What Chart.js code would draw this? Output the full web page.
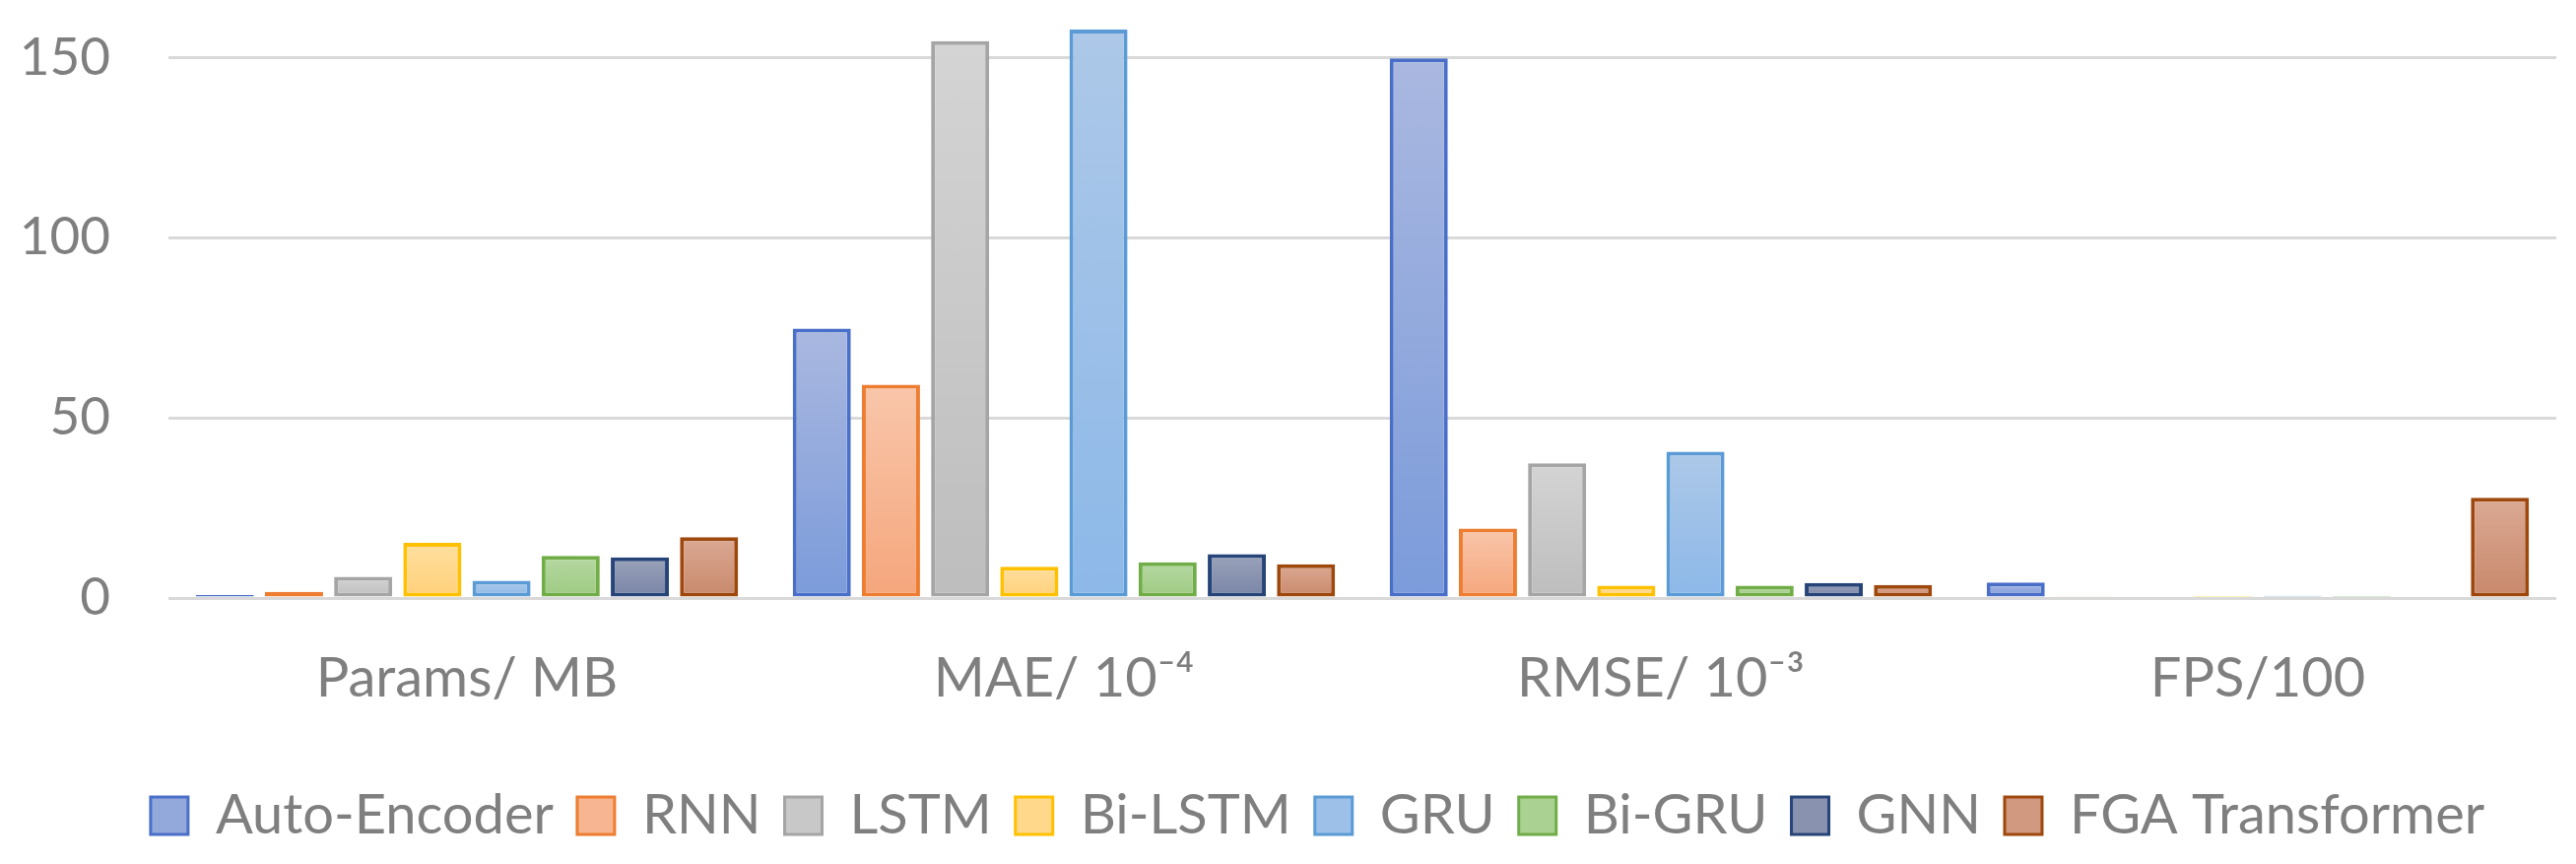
<!DOCTYPE html>
<html>
<head>
<meta charset="utf-8">
<script src="https://cdn.jsdelivr.net/npm/chart.js@4.4.1/dist/chart.umd.min.js"></script>
<style>
  html, body { margin: 0; padding: 0; background: #fff; }
  #wrap { width: 2615px; height: 877px; position: relative; }
</style>
</head>
<body>
<div id="wrap"><canvas id="chart"></canvas></div>
<script>
const categories = ["Params/ MB", "MAE/ 10\u207B\u2074", "RMSE/ 10\u207B\u00B3", "FPS/100"];
const models = ["Auto-Encoder", "RNN", "LSTM", "Bi-LSTM", "GRU", "Bi-GRU", "GNN", "FGA Transformer"];

// one array per model, values per category (Params, MAE, RMSE, FPS)
const autoEncoder = [0.8, 74.8, 149.8, 4.3];
const rnn = [1.7, 59.2, 19.3, 0.5];
const lstm = [5.9, 154.6, 37.4, 0.4];
const biLstm = [15.3, 8.7, 3.4, 0.3];
const gru = [4.8, 157.8, 40.6, 0.6];
const biGru = [11.7, 9.9, 3.4, 0.3];
const gnn = [11.3, 12.2, 4.2, 0.4];
const fga = [16.9, 9.4, 3.6, 27.8];
const series = [autoEncoder, rnn, lstm, biLstm, gru, biGru, gnn, fga];

const yTicks = [0, 50, 100, 150];

// styles
const borders = ["#4a6fc8", "#ed7d31", "#a5a5a5", "#ffc000", "#5b9bd5", "#70ad47", "#264478", "#9e480e"];
const fillTop = ["#aab8e0", "#f9c6aa", "#d4d4d4", "#ffdf9e", "#adc8e8", "#b6d8a2", "#9ba3ba", "#dba993"];
const fillBottom = ["#7b9bda", "#f5a67c", "#bdbdbd", "#ffd07a", "#8cb8e8", "#9dca82", "#7884a6", "#c8886b"];
const legendFill = ["#93a9dc", "#f7b691", "#c8c8c8", "#ffd88c", "#9cc0e8", "#aad192", "#8993b0", "#d1997f"];

const textColor = "#7f7f7f";
const fontFamily = "Lato, 'Open Sans', sans-serif";

function barFill(i) {
    return (ctx) => {
        const chart = ctx.chart;
        if (!chart.chartArea || ctx.raw === undefined) return fillBottom[i];
        const y = chart.scales.y;
        const top = y.getPixelForValue(ctx.raw);
        const base = y.getPixelForValue(0);
        if (!(base - top > 1)) return fillBottom[i];
        const g = chart.ctx.createLinearGradient(0, top, 0, base);
        g.addColorStop(0, fillTop[i]);
        g.addColorStop(1, fillBottom[i]);
        return g;
    };
}

// legend in the original sits a little right of centre
const legendShift = {
    id: "legendShift",
    afterLayout(chart) {
        chart.legend.left += 35;
        chart.legend.right += 35;
    },
};

const datasets = models.map((name, i) => ({
    label: name,
    data: series[i],
    backgroundColor: barFill(i),
    borderColor: borders[i],
    borderWidth: 4,
    borderSkipped: false,
    categoryPercentage: 0.927,
    barPercentage: 0.84,
    clip: false,
}));

new Chart(document.getElementById("chart"), {
    type: "bar",
    data: { labels: categories, datasets: datasets },
    plugins: [legendShift],
    options: {
        responsive: true,
        maintainAspectRatio: false,
        animation: false,
        layout: { padding: { top: 0, right: 20, bottom: 11, left: 10 } },
        plugins: {
            tooltip: { enabled: false },
            legend: {
                position: "bottom",
                labels: {
                    color: textColor,
                    font: { family: fontFamily, size: 56 },
                    boxWidth: 38,
                    boxHeight: 38,
                    padding: 24,
                    generateLabels: (chart) =>
                        Chart.defaults.plugins.legend.labels.generateLabels(chart).map((item, i) => ({
                            ...item,
                            fillStyle: legendFill[i],
                            strokeStyle: borders[i],
                            lineWidth: 3,
                        })),
                },
            },
        },
        scales: {
            x: {
                grid: { display: false, drawTicks: false },
                border: { display: false },
                ticks: {
                    color: textColor,
                    font: { family: fontFamily, size: 56 },
                    padding: 48,
                    maxRotation: 0,
                },
                afterFit: (scale) => { scale.height = 169; },
            },
            y: {
                min: 0,
                max: 166,
                grid: { color: "#d9d9d9", lineWidth: 3, drawTicks: false },
                border: { display: false },
                ticks: {
                    color: textColor,
                    font: { family: fontFamily, size: 53 },
                    padding: 59,
                    includeBounds: false,
                },
                afterBuildTicks: (scale) => {
                    scale.ticks = yTicks.map((v) => ({ value: v }));
                },
                afterFit: (scale) => {
                    scale.width = 161;
                    scale.paddingTop = 0;
                    scale.paddingBottom = 0;
                },
            },
        },
    },
});
</script>
</body>
</html>
